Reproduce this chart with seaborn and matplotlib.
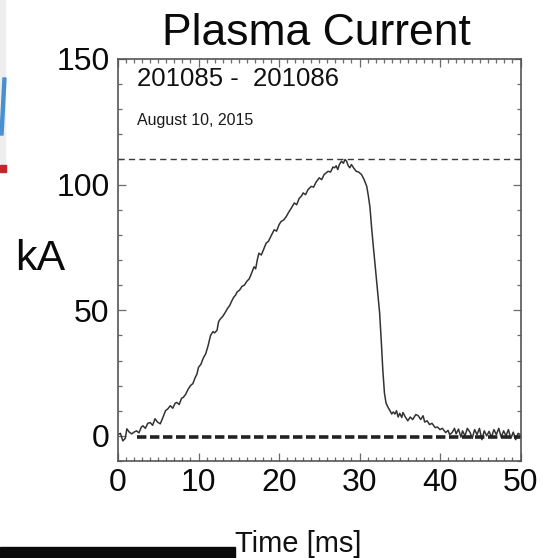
import numpy as np
import pandas as pd
import matplotlib
matplotlib.use("Agg")
import matplotlib.pyplot as plt
import matplotlib.patches as mpatches
from matplotlib.ticker import MultipleLocator
import seaborn as sns

# ---- data ----
time_ms = [0.0, 0.3, 0.6, 0.9, 1.1, 1.4, 1.7, 2.0, 2.3, 2.6, 2.9, 3.1, 3.4, 3.7, 4.0,
           4.3, 4.6, 4.9, 5.25, 5.6, 5.9, 6.2, 6.5, 6.8, 7.1, 7.3, 7.6, 7.9, 8.1, 8.4,
           8.7, 9.0, 9.3, 9.6, 9.8, 10.0, 10.3, 10.6, 10.9, 11.2, 11.5, 11.8, 12.0, 12.3,
           12.5, 12.75, 13.0, 13.3, 13.6, 13.9, 14.1, 14.4, 14.6, 14.8, 15.1, 15.4, 15.7,
           16.0, 16.3, 16.5, 16.9, 17.1, 17.3, 17.5, 17.8, 18.0, 18.4, 18.7, 19.0, 19.4,
           19.7, 20.0, 20.25, 20.6, 20.9, 21.2, 21.5, 21.9, 22.2, 22.5, 22.8, 23.0, 23.3,
           23.6, 24.0, 24.3, 24.6, 25.0, 25.3, 25.6, 26.1, 26.4, 26.7, 26.9, 27.1, 27.3,
           27.5, 27.75, 28.0, 28.2, 28.4, 28.6, 28.8, 29.0, 29.3, 29.6, 29.9, 30.25, 30.5,
           30.7, 30.9, 31.1, 31.3, 31.5, 31.7, 32.0, 32.3, 32.5, 32.7, 32.9, 33.1, 33.3,
           33.6, 33.8, 34.0, 34.2, 34.4, 34.6, 34.8, 35.0, 35.25, 35.4, 35.7, 36.0, 36.3,
           36.6, 37.0, 37.3, 37.6, 37.9, 38.1, 38.4, 38.7, 39.0, 39.4, 39.7, 40.0, 40.3,
           40.7, 41.0, 41.2, 41.5, 41.8, 42.0, 42.3, 42.6, 42.8, 43.1, 43.4, 43.75, 44.0,
           44.3, 44.6, 44.9, 45.2, 45.5, 45.8, 46.1, 46.4, 46.7, 47.0, 47.3, 47.6, 47.9,
           48.2, 48.5, 48.8, 49.1, 49.4, 49.7, 50.0]
current_kA = [0.5, 1.0, -2.0, -1.0, 2.8, 1.5, 0.8, 1.5, 2.0, 1.2, 3.5, 4.0, 3.0, 5.0, 5.3,
              4.2, 6.8, 5.5, 4.8, 7.5, 10.0, 10.8, 12.0, 11.0, 13.0, 13.3, 12.5, 15.0, 15.3, 16.5,
              18.5, 20.0, 20.8, 23.3, 24.5, 27.3, 28.5, 31.0, 32.7, 36.0, 40.0, 41.5, 41.0, 42.0,
              45.5, 46.7, 47.5, 49.0, 50.7, 52.0, 53.5, 55.3, 56.0, 57.3, 58.0, 59.5, 60.0,
              61.5, 62.5, 64.0, 67.3, 66.5, 70.0, 72.7, 72.0, 73.5, 76.7, 77.5, 79.5, 82.0,
              81.5, 84.0, 85.3, 86.0, 87.3, 89.0, 90.5, 92.7, 92.0, 94.5, 95.5, 96.7, 96.0,
              98.0, 99.3, 99.0, 101.0, 102.7, 102.0, 104.0, 105.3, 105.0, 107.0, 106.7, 107.5, 106.0,
              108.0, 109.3, 108.5, 110.0, 109.3, 107.5, 106.7, 108.0, 106.5, 105.3, 105.0, 104.0, 102.5,
              101.0, 99.3, 95.5, 91.0, 83.0, 76.0, 66.0, 56.0, 49.0, 38.0, 26.0, 17.0, 13.0,
              11.0, 10.0, 8.7, 9.5, 8.7, 10.0, 7.5, 9.0, 7.3, 9.3, 7.5, 6.0, 7.5,
              6.5, 8.5, 8.0, 6.5, 8.0, 5.5, 6.0, 4.5, 5.0, 3.3, 3.5, 2.5, 3.0,
              1.3, 2.2, 0.5, 1.3, 3.0, 0.8, 2.7, -0.5, 2.0, 0.0, 3.0, 1.3, -1.0,
              2.5, 0.5, 3.0, -1.5, 2.0, 0.0, 1.8, -0.5, 2.5, 0.5, 3.0, -0.5, 2.0,
              0.0, 2.5, -1.0, 1.5, -1.5, 1.0, 0.5]

ref_top_x = [0.0, 50.0]
ref_top_y = [110.0, 110.0]
ref_base_x = [2.4, 50.0]
ref_base_y = [-0.3, -0.3]

x_ticks = [0, 10, 20, 30, 40, 50]
y_ticks = [0, 50, 100, 150]

title_text = "Plasma Current"
shot_text = "201085 -  201086"
date_text = "August 10, 2015"
ylabel_text = "kA"
xlabel_text = "Time [ms]"

# ---- style ----
sns.set_theme(style="ticks")
plt.rcParams["font.family"] = ["Liberation Sans", "DejaVu Sans"]

W, H = 543, 558
fig = plt.figure(figsize=(W / 100, H / 100), dpi=100)
fig.patch.set_facecolor("white")

ax = fig.add_axes([118 / W, 1 - 461 / H, 402.5 / W, 402 / H])
ax.set_facecolor("white")

df = pd.DataFrame({"t": time_ms, "I": current_kA})
sns.lineplot(data=df, x="t", y="I", ax=ax, color="#333333", linewidth=1.1,
             estimator=None, sort=False)

top_df = pd.DataFrame({"t": ref_top_x, "I": ref_top_y})
base_df = pd.DataFrame({"t": ref_base_x, "I": ref_base_y})
l1 = sns.lineplot(data=top_df, x="t", y="I", ax=ax, color="#3a3a3a", linewidth=1.0,
                  estimator=None).lines[-1]
l1.set_dashes([4.5, 3.0])
l2 = sns.lineplot(data=base_df, x="t", y="I", ax=ax, color="#222222", linewidth=2.6,
                  estimator=None).lines[-1]
l2.set_dashes([2.6, 1.0])

ax.set_xlim(0, 50)
ax.set_ylim(-10, 150)
ax.set_xticks(x_ticks)
ax.set_yticks(y_ticks)
ax.xaxis.set_minor_locator(MultipleLocator(1))
ax.yaxis.set_minor_locator(MultipleLocator(10))
ax.tick_params(which="both", direction="in", top=True, right=True, color="#6a6a6a",
               width=0.9)
ax.tick_params(which="major", length=6, labelsize=23, labelcolor="#0a0a0a")
ax.tick_params(which="minor", length=3)
ax.tick_params(axis="y", which="major", pad=6)
ax.tick_params(axis="x", which="major", pad=5)
for s in ax.spines.values():
    s.set_color("#555555")
    s.set_linewidth(1.2)
ax.set_xlabel("")
ax.set_ylabel("")

# texts
fig.text(316 / W, 1 - 45 / H, title_text, ha="center", va="baseline",
         fontsize=32, color="#0a0a0a")
fig.text(137 / W, 1 - 86 / H, shot_text, ha="left", va="baseline",
         fontsize=18.5, color="#111111")
fig.text(137 / W, 1 - 125 / H, date_text, ha="left", va="baseline",
         fontsize=11.5, color="#1a1a1a")
fig.text(40 / W, 1 - 270 / H, ylabel_text, ha="center", va="baseline",
         fontsize=31, color="#0a0a0a")
fig.text(298 / W, 1 - 552 / H, xlabel_text, ha="center", va="baseline",
         fontsize=21, color="#111111")

# slide artifacts at the edges
fig.patches.append(mpatches.Rectangle((0, 1 - 165 / H), 5 / W, 165 / H,
                                      transform=fig.transFigure, color="#eceef0", zorder=0))
fig.patches.append(mpatches.Polygon([(0, 1 - 135 / H), (3 / W, 1 - 135 / H),
                                     (6 / W, 1 - 78 / H), (3 / W, 1 - 78 / H)],
                                    closed=True, transform=fig.transFigure,
                                    color="#4a90d0", zorder=1))
fig.patches.append(mpatches.Rectangle((0, 1 - 172 / H), 6 / W, 7 / H,
                                      transform=fig.transFigure, color="#c0282d", zorder=1))
fig.patches.append(mpatches.Rectangle((0, 0), 235 / W, 11 / H,
                                      transform=fig.transFigure, color="#0a0a0a", zorder=1))

fig.savefig("out.png", dpi=100)
